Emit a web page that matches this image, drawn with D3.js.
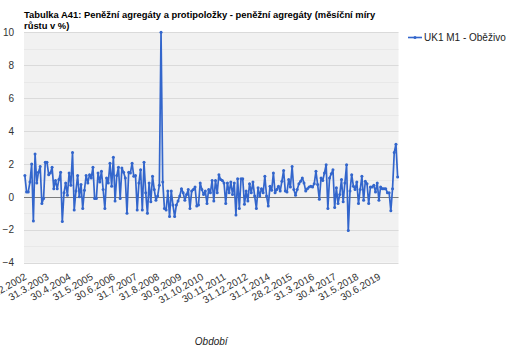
<!DOCTYPE html>
<html>
<head>
<meta charset="utf-8">
<script src="https://cdn.jsdelivr.net/npm/d3@7/dist/d3.min.js"></script>
<style>
  html, body { margin: 0; padding: 0; background: #fff; }
  svg { display: block; font-family: "Liberation Sans", Arial, sans-serif; }
</style>
</head>
<body>
<svg id="chart" width="517" height="362"></svg>
<script>
// ---- data ----
const titleLines = ["Tabulka A41: Peněžní agregáty a protipoložky - peněžní agregáty (měsíční míry", "růstu v %)"];
const seriesName = "UK1 M1 - Oběživo";
const xAxisTitle = "Období";
const startYear = 2002, startMonth = 2; // first category: 28.2.2002
const values = [
  1.3, 0.3, 0.3, 0.9, 2.0, -1.46, 2.6, 0.85, 1.5, 1.85,
  -0.4, -0.1, 2.1, 2.1, 1.35, 1.45, 1.8, 0.5, 1.0, 0.5,
  1.05, 1.5, -1.5, 0.25, 0.85, 0.1, 1.45, 0.7, 2.7, -0.8,
  0.35, 1.3, 0.0, 0.75, -0.7, 0.4, 1.3, 0.85, 1.35, 1.15,
  1.8, -0.1, -0.1, 1.45, 0.9, 1.55, 0.45, -0.7, 1.15, 0.85,
  2.05, 0.65, 2.4, -0.25, 1.3, 1.8, -0.1, 1.75, 1.5, 1.15,
  -1.0, 1.5, 1.45, 2.05, 1.25, 1.3, -0.8, 0.85, 1.65, -0.8,
  2.1, 0.25, -1.0, 0.85, -0.3, 1.25, 0.45, -0.2, 0.05, 0.7,
  10.0,
  0.9, -0.7, -0.8, 0.35, -1.2, 0.35, -0.5, -1.2,
  -0.5, -0.25, 0.05, 0.5, 0.25, -0.2, 0.15, 0.45, -0.7, 0.35,
  0.45, 0.6, -0.55, -0.5, 0.85, 0.45, 0.15, 0.35, -0.4, 0.45,
  0.25, 1.0, -0.25, 1.0, 0.25, 1.35, 1.05, 1.0, 0.85, -0.4,
  0.85, 0.25, 0.9, 0.15, 0.85, -1.1, 1.1, -0.7, 1.1, 1.1,
  -0.45, 0.35, -0.25, 0.8, 0.25, 0.9, 0.05, -0.7, 0.55, 0.05,
  0.5, 0.25, 1.25, 0.05, -0.55, 0.65, 0.4, 1.45, 0.25, 0.45,
  0.65, 0.35, 0.95, 1.6, 0.35, 0.3, 1.05, 0.6, 1.85, 0.45,
  0.1, 0.45, 0.8, 0.95, 1.15, 0.85, 0.35, 0.5, 0.6, 0.65,
  0.6, 0.8, 1.55, 0.75, -0.15, 1.15, 1.0, 1.45, 1.95, -0.7,
  1.15, 1.4, 1.65, -0.65, 0.55, -0.4,
  0.15, 1.05, -0.3, 0.85, 1.95, -2.05,
  0.35, 1.35, 0.65, 0.45, 0.9, -0.4, 0.45, 1.25, -0.2, 0.95,
  0.8, -0.4, 0.6, 0.6, 0.7, 0.3, 0.85, -0.2, 0.6, 0.5,
  0.5, 0.5, 0.25, 0.25, -0.85, 0.5, 2.7, 3.2, 1.2
];
const xTickLabels = ["28.2.2002","31.3.2003","30.4.2004","31.5.2005","30.6.2006","31.7.2007",
  "31.8.2008","30.9.2009","31.10.2010","30.11.2011","31.12.2012","31.1.2014","28.2.2015",
  "31.3.2016","30.4.2017","31.5.2018","30.6.2019"];
const yTickValues = [-4, -2, 0, 2, 4, 6, 8, 10];
const yGridValues = [-4, -3, -2, -1, 0, 1, 2, 3, 4, 5, 6, 7, 8, 9, 10];

// categories: month-end dates
const categories = values.map((v, i) => {
  const y = startYear + Math.floor((startMonth - 1 + i) / 12);
  const m = (startMonth - 1 + i) % 12 + 1;
  const d = new Date(y, m, 0).getDate();
  return d + "." + m + "." + y;
});
const data = categories.map((c, i) => ({ c, v: values[i] }));

// ---- layout ----
const svg = d3.select("#chart");
const plot = { left: 24, right: 398.5, top: 32.3, bottom: 262.7 };

const x = d3.scalePoint().domain(categories).range([plot.left, plot.right]).padding(0.5);
const y = d3.scaleLinear().domain([-4, 10]).range([plot.bottom, plot.top]);

// background
svg.append("rect")
  .attr("x", plot.left).attr("y", plot.top)
  .attr("width", plot.right - plot.left).attr("height", plot.bottom - plot.top)
  .attr("fill", "#f1f1f1");

// gridlines
svg.append("g").selectAll("line").data(yGridValues).join("line")
  .attr("x1", plot.left).attr("x2", plot.right)
  .attr("y1", d => Math.round(y(d)) + 0.5).attr("y2", d => Math.round(y(d)) + 0.5)
  .attr("stroke", d => d % 2 === 0 ? "#dadada" : "#e8e8e8")
  .attr("stroke-width", 1);

// zero baseline
svg.append("line")
  .attr("x1", plot.left).attr("x2", plot.right)
  .attr("y1", Math.round(y(0)) + 0.5).attr("y2", Math.round(y(0)) + 0.5)
  .attr("stroke", "#7b7b7b").attr("stroke-width", 1);

// y axis
const yAxis = svg.append("g")
  .attr("transform", `translate(${plot.left - 10},0)`)
  .call(d3.axisLeft(y).tickValues(yTickValues).tickSize(0).tickPadding(0));
yAxis.select(".domain").remove();
yAxis.selectAll("text")
  .attr("font-size", "10px").attr("fill", "#333")
  .attr("font-family", "'Liberation Sans', Arial, sans-serif");

// x axis
const xAxis = svg.append("g")
  .attr("transform", `translate(0,${plot.bottom})`)
  .call(d3.axisBottom(x).tickValues(xTickLabels).tickSize(0).tickPadding(0));
xAxis.select(".domain").remove();
xAxis.selectAll(".tick text")
  .attr("font-size", "10px").attr("fill", "#333")
  .attr("font-family", "'Liberation Sans', Arial, sans-serif")
  .attr("text-anchor", "end")
  .attr("dy", null)
  .attr("y", 0)
  .attr("transform", "translate(2,16) rotate(-30)");

// line
const line = d3.line().x(d => x(d.c)).y(d => y(d.v));
svg.append("path").datum(data)
  .attr("d", line)
  .attr("fill", "none")
  .attr("stroke", "#3366cc")
  .attr("stroke-width", 1.7)
  .attr("stroke-linejoin", "round");
svg.append("g").selectAll("circle").data(data).join("circle")
  .attr("cx", d => x(d.c)).attr("cy", d => y(d.v))
  .attr("r", 1.5).attr("fill", "#3366cc");

// title
const title = svg.append("text")
  .attr("x", plot.left).attr("y", 18)
  .attr("font-size", "9.4px").attr("font-weight", "bold").attr("fill", "#000");
titleLines.forEach((t, i) => {
  title.append("tspan").attr("x", plot.left).attr("dy", i === 0 ? 0 : 11).text(t);
});

// legend
const lg = svg.append("g").attr("transform", "translate(408,37.5)");
lg.append("line").attr("x1", 0).attr("x2", 14).attr("y1", 0).attr("y2", 0)
  .attr("stroke", "#3366cc").attr("stroke-width", 1.6);
lg.append("circle").attr("cx", 7).attr("cy", 0).attr("r", 1.5).attr("fill", "#3366cc");
lg.append("text").attr("x", 16).attr("y", 3.6)
  .attr("font-size", "10px").attr("fill", "#222").text(seriesName);

// x axis title
svg.append("text")
  .attr("x", (plot.left + plot.right) / 2).attr("y", 345)
  .attr("text-anchor", "middle")
  .attr("font-size", "10px").attr("font-style", "italic").attr("fill", "#222")
  .text(xAxisTitle);
</script>
</body>
</html>
